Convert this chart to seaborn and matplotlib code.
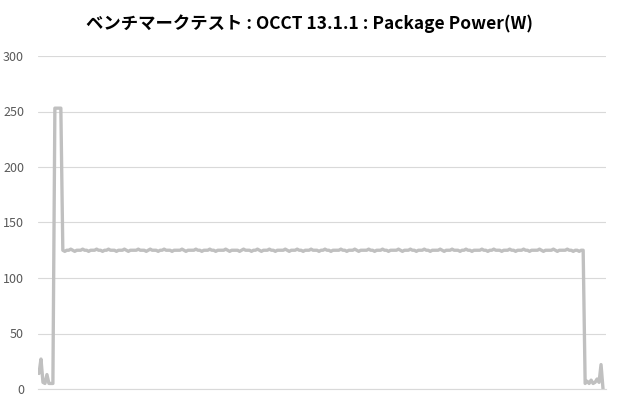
import numpy as np
import pandas as pd
import matplotlib
matplotlib.use("Agg")
import matplotlib.pyplot as plt
import seaborn as sns

# OCCT package power log, one sample every 2 s
ramp_up = [14, 27, 6, 5, 13, 5, 5, 5, 253, 253, 253, 253]
load = [
    125, 124, 125, 125, 126, 125, 124, 125, 125, 125, 126, 125, 125, 124, 125, 125, 125, 126, 125, 125,
    124, 125, 125, 126, 125, 125, 125, 124, 125, 125, 125, 126, 125, 124, 125, 125, 125, 125, 126, 125,
    125, 125, 124, 125, 126, 125, 125, 125, 124, 125, 125, 126, 125, 125, 125, 124, 125, 125, 125, 125,
    126, 125, 124, 125, 125, 125, 125, 126, 125, 125, 124, 125, 125, 125, 126, 125, 125, 124, 125, 125,
    125, 125, 126, 125, 124, 125, 125, 125, 125, 124, 125, 126, 125, 125, 125, 124, 125, 125, 126, 125,
    124, 125, 125, 125, 126, 125, 125, 124, 125, 125, 125, 125, 126, 125, 124, 125, 125, 125, 126, 125,
    125, 124, 125, 125, 125, 126, 125, 125, 125, 124, 125, 125, 126, 125, 125, 124, 125, 125, 125, 125,
    126, 125, 125, 124, 125, 125, 125, 126, 125, 124, 125, 125, 125, 125, 126, 125, 125, 124, 125, 125,
    125, 126, 125, 125, 124, 125, 125, 125, 125, 126, 125, 124, 125, 125, 125, 126, 125, 125, 124, 125,
    125, 125, 126, 125, 125, 124, 125, 125, 125, 125, 126, 125, 124, 125, 125, 125, 126, 125, 125, 125,
    124, 125, 125, 126, 125, 125, 124, 125, 125, 125, 125, 126, 125, 125, 124, 125, 125, 126, 125, 125,
    125, 124, 125, 125, 125, 126, 125, 125, 124, 125, 125, 125, 126, 125, 125, 124, 125, 125, 125, 125,
    126, 125, 124, 125, 125, 125, 125, 126, 125, 124, 125, 125, 125, 125, 126, 125, 125, 124, 125, 125,
    124, 125, 125,
]
ramp_down = [5, 7, 5, 8, 5, 6, 9, 6, 22, 0]

power = ramp_up + load + ramp_down
y_ticks = [0, 50, 100, 150, 200, 250, 300]
title = "ベンチマークテスト : OCCT 13.1.1 : Package Power(W)"

df = pd.DataFrame({"sample": np.arange(len(power)), "watts": power})

sns.set_style("white")
plt.rcParams["font.family"] = ["Noto Sans CJK JP", "DejaVu Sans"]

fig = plt.figure(figsize=(6.2, 4.0), dpi=100)
ax = fig.add_axes([38 / 620, 1 - 389 / 400, 568 / 620, 333 / 400])

sns.lineplot(data=df, x="sample", y="watts", ax=ax, color="#c0c0c0", linewidth=2.4)

ax.set_xlim(-0.5, len(power) + 0.5)
ax.set_ylim(0, 300)
ax.set_yticks(y_ticks)
ax.set_xticks([])
ax.set_xlabel("")
ax.set_ylabel("")
ax.tick_params(axis="y", length=0, labelsize=9, labelcolor="#595959", pad=10)
ax.grid(axis="y", color="#d9d9d9", linewidth=0.8)
ax.set_axisbelow(True)
for side in ["top", "right", "left"]:
    ax.spines[side].set_visible(False)
ax.spines["bottom"].set_color("#d9d9d9")
ax.spines["bottom"].set_linewidth(0.8)

fig.text(0.5, 1 - 24 / 400, title, ha="center", va="center",
         fontsize=12.5, fontweight="bold", color="#000000")

fig.savefig("out.png", dpi=100)
